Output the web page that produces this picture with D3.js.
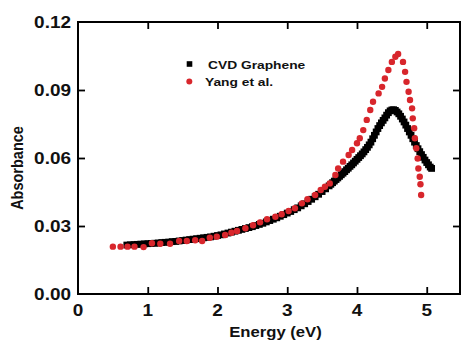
<!DOCTYPE html>
<html>
<head>
<meta charset="utf-8">
<script src="https://cdn.jsdelivr.net/npm/d3@7"></script>
<style>
  html, body { margin: 0; padding: 0; background: #fff; }
  svg { display: block; }
  text { font-family: "Liberation Sans", Arial, sans-serif; font-weight: bold; fill: #111; }
</style>
</head>
<body>
<svg id="chart" width="461" height="342"></svg>
<script>
// ---- data ----
const cvdEnergy = [0.70,0.75,0.80,0.85,0.90,0.95,1.00,1.05,1.10,1.15,1.20,1.25,1.30,1.35,1.40,1.45,1.50,1.55,1.60,1.65,1.70,1.75,1.80,1.85,1.90,1.95,2.00,2.05,2.10,2.15,2.20,2.25,2.30,2.35,2.40,2.45,2.50,2.55,2.60,2.65,2.70,2.75,2.80,2.85,2.90,2.95,3.00,3.05,3.10,3.15,3.20,3.25,3.30,3.35,3.40,3.45,3.50,3.55,3.60,
  3.625,3.65,3.675,3.70,3.725,3.75,3.775,3.80,3.825,3.85,3.875,3.90,3.925,3.95,3.975,4.00,4.025,4.05,4.075,4.10,4.125,4.15,4.175,4.20,4.225,4.25,4.275,4.30,4.325,4.35,4.375,4.40,4.425,4.45,4.475,4.50,4.525,4.55,4.575,4.60,4.625,4.65,4.675,4.70,4.725,4.75,4.775,4.80,4.825,4.85,4.875,4.90,4.925,4.95,4.975,5.00,5.025,5.05,5.07];
const cvdAbs = [0.0216,0.0217,0.0218,0.0219,0.0220,0.0221,0.0222,0.0223,0.0224,0.0225,0.0227,0.0228,0.0229,0.0231,0.0232,0.0234,0.0236,0.0238,0.0240,0.0242,0.0244,0.0246,0.0248,0.0250,0.0252,0.0255,0.0258,0.0261,0.0265,0.0269,0.0273,0.0277,0.0281,0.0285,0.0289,0.0293,0.0297,0.0302,0.0307,0.0312,0.0318,0.0324,0.0330,0.0336,0.0343,0.0350,0.0357,0.0364,0.0372,0.0380,0.0389,0.0398,0.0408,0.0418,0.0429,0.0440,0.0452,0.0464,0.0477,
  0.0484,0.0491,0.0498,0.0505,0.0512,0.0519,0.0526,0.0533,0.0540,0.0548,0.0555,0.0563,0.0570,0.0578,0.0586,0.0594,0.0602,0.0610,0.0618,0.0627,0.0637,0.0647,0.0658,0.0670,0.0685,0.0700,0.0715,0.0730,0.0743,0.0755,0.0766,0.0777,0.0789,0.0800,0.0808,0.0812,0.0813,0.0810,0.0803,0.0795,0.0784,0.0772,0.0759,0.0745,0.0730,0.0715,0.0700,0.0685,0.0670,0.0655,0.0641,0.0628,0.0615,0.0603,0.0591,0.0580,0.0570,0.0560,0.0554];

const yangEnergy = [0.50,0.61,0.71,0.81,0.94,1.06,1.18,1.32,1.45,1.56,1.68,1.78,1.89,1.99,2.11,2.20,2.28,2.40,2.51,2.61,2.71,2.83,2.92,3.02,3.11,3.21,3.29,3.40,3.48,3.54,3.61,3.69,3.73,3.80,3.88,3.93,4.00,4.04,4.09,4.14,4.19,4.23,4.31,4.36,4.40,4.45,4.50,4.55,4.59,4.66,4.69,4.71,4.74,4.76,4.79,4.80,4.82,4.83,4.85,4.87,4.88,4.90,4.91,4.92];
const yangAbs = [0.0209,0.0209,0.0209,0.0209,0.0207,0.0224,0.0222,0.0222,0.0234,0.0234,0.0237,0.0234,0.0248,0.0253,0.0260,0.0270,0.0278,0.0290,0.0303,0.0316,0.0330,0.0341,0.0352,0.0366,0.0378,0.0400,0.0418,0.0437,0.0459,0.0473,0.0488,0.0525,0.0554,0.0584,0.0613,0.0635,0.0665,0.0687,0.0723,0.0768,0.0812,0.0848,0.0885,0.0914,0.0951,0.0988,0.1024,0.1047,0.1059,0.1024,0.0980,0.0936,0.0892,0.0856,0.0819,0.0775,0.0731,0.0687,0.0643,0.0598,0.0554,0.0517,0.0484,0.0437];

const xTicks = [0, 1, 2, 3, 4, 5];
const yTicks = [0.00, 0.03, 0.06, 0.09, 0.12];
const seriesNames = ["CVD Graphene", "Yang et al."];
const xTitle = "Energy (eV)";
const yTitle = "Absorbance";

// ---- layout ----
const L = 78, R = 460, T = 22, B = 294;
const SX = 1.15; // horizontal text stretch seen in the reference
const RED = "#d8262c";

const svg = d3.select("#chart");
const x = d3.scaleLinear().domain([0, 5.477]).range([L, R]);
const y = d3.scaleLinear().domain([0, 0.12]).range([B, T]);

// data marks
const cvd = cvdEnergy.map((e, i) => ({ e, a: cvdAbs[i] }));
const yang = yangEnergy.map((e, i) => ({ e, a: yangAbs[i] }));

const sq = 6.8;
svg.append("g").selectAll("rect").data(cvd).join("rect")
  .attr("x", d => x(d.e) - sq / 2)
  .attr("y", d => y(d.a) - sq / 2)
  .attr("width", sq).attr("height", sq)
  .attr("fill", "#000");

svg.append("g").selectAll("circle").data(yang).join("circle")
  .attr("cx", d => x(d.e))
  .attr("cy", d => y(d.a))
  .attr("r", 3.2)
  .attr("fill", RED);

// axes: inward ticks on all four sides, no labels from axis generator
const tick = 7;
const axStyle = g => {
  g.select(".domain").remove();
  g.selectAll(".tick line").attr("stroke", "#000").attr("stroke-width", 1.8);
  g.selectAll(".tick text").remove();
};
svg.append("g").attr("transform", `translate(0,${B})`)
  .call(d3.axisBottom(x).tickValues(xTicks.slice(1)).tickSize(-tick).tickFormat("")).call(axStyle);
svg.append("g").attr("transform", `translate(0,${T})`)
  .call(d3.axisTop(x).tickValues(xTicks.slice(1)).tickSize(-tick).tickFormat("")).call(axStyle);
svg.append("g").attr("transform", `translate(${L},0)`)
  .call(d3.axisLeft(y).tickValues(yTicks.slice(1, -1)).tickSize(-tick).tickFormat("")).call(axStyle);
svg.append("g").attr("transform", `translate(${R},0)`)
  .call(d3.axisRight(y).tickValues(yTicks.slice(1, -1)).tickSize(-tick).tickFormat("")).call(axStyle);

// frame
svg.append("rect").attr("x", L).attr("y", T).attr("width", R - L).attr("height", B - T)
  .attr("fill", "none").attr("stroke", "#000").attr("stroke-width", 2);

// tick labels
svg.append("g").selectAll("text").data(yTicks).join("text")
  .attr("transform", d => `translate(71,${y(d) + 6.2}) scale(${SX},1)`)
  .attr("text-anchor", "end").attr("font-size", 16.5)
  .text(d => d3.format(".2f")(d));

svg.append("g").selectAll("text").data(xTicks).join("text")
  .attr("transform", d => `translate(${x(d)},${315.5}) scale(${SX},1)`)
  .attr("text-anchor", "middle").attr("font-size", 16.5)
  .text(d => d);

// axis titles
svg.append("text")
  .attr("transform", `translate(275.5,337) scale(${SX},1)`)
  .attr("text-anchor", "middle").attr("font-size", 14.5)
  .text(xTitle);
svg.append("text")
  .attr("transform", `translate(23,168) scale(${SX},1) rotate(-90)`)
  .attr("text-anchor", "middle").attr("font-size", 14.5)
  .text(yTitle);

// legend
const lg = svg.append("g");
lg.append("rect").attr("x", 189.5 - 2.8).attr("y", 64 - 2.8).attr("width", 5.6).attr("height", 5.6).attr("fill", "#000");
lg.append("text").attr("transform", `translate(208,68.5) scale(${SX + 0.05},1)`)
  .attr("font-size", 11.5).text(seriesNames[0]);
lg.append("circle").attr("cx", 189.3).attr("cy", 81.5).attr("r", 3).attr("fill", RED);
lg.append("text").attr("transform", `translate(205,85.5) scale(${SX + 0.05},1)`)
  .attr("font-size", 11.5).text(seriesNames[1]);
</script>
</body>
</html>
